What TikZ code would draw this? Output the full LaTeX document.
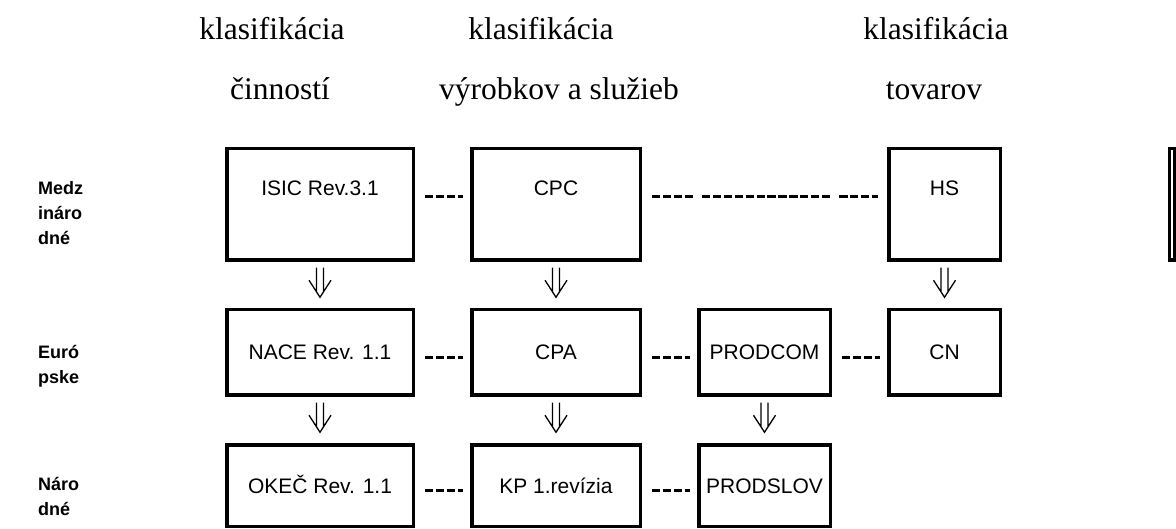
\documentclass[tikz,border=0pt]{standalone}
\usepackage{fontspec}
\setmainfont{Liberation Serif}
\newfontfamily\arialfont{Liberation Sans}
\usetikzlibrary{calc}

\begin{document}
\begin{tikzpicture}[x=1pt,y=-1pt,
	box/.style={draw,line width=3.5pt,inner sep=0pt,text height=15pt,text depth=0pt,font=\arialfont\fontsize{21}{25}\selectfont},
	lbl/.style={inner sep=0pt,text height=15pt,text depth=0pt,font=\arialfont\fontsize{21}{25}\selectfont},
	c1/.style={minimum width=186.5pt},
	c2/.style={minimum width=168.5pt},
	c3/.style={minimum width=131.5pt},
	c4/.style={minimum width=111.5pt},
	r1/.style={minimum height=111.5pt},
	r2/.style={minimum height=85.5pt},
	r3/.style={minimum height=81.5pt},
	side/.style={anchor=north west,inner sep=0pt,align=left,font=\arialfont\bfseries\fontsize{18}{25}\selectfont},
	title/.style={anchor=base,inner sep=0pt,font=\fontsize{31.5}{38}\selectfont},
	link/.style={line width=3pt,dash pattern=on 8.3pt off 2.6pt,shorten <=10pt,shorten >=7.5pt},
	longlink/.style={line width=3pt,shorten <=10pt,shorten >=9pt,
		dash pattern=on 8.3pt off 2.6pt on 8.3pt off 2.6pt on 8.3pt off 2.6pt on 8.3pt off 9pt
		on 8.3pt off 2.6pt on 8.3pt off 2.6pt on 8.3pt off 2.6pt on 8.3pt off 2.6pt
		on 8.3pt off 2.6pt on 8.3pt off 2.6pt on 8.3pt off 2.6pt on 8.3pt off 2.6pt
		on 8.3pt off 2.6pt on 8.3pt off 2.6pt on 8.3pt off 2.6pt on 8.3pt off 9pt
		on 8.3pt off 2.6pt on 8.3pt off 2.6pt on 8.3pt off 2.6pt on 8.3pt off 60pt},
	down/.style={line width=1.3pt,to path={
		($(\tikztostart.south)+(-3.5,5.75)$) -- ($(\tikztotarget.north)+(-3.5,-16.2)$)
		($(\tikztostart.south)+(3.5,5.75)$) -- ($(\tikztotarget.north)+(3.5,-16.2)$)
		($(\tikztotarget.north)+(-11,-27.75)$) -- ($(\tikztotarget.north)+(0,-10.75)$)
		-- ($(\tikztotarget.north)+(11,-27.75)$)}}]
	\useasboundingbox (0,0) rectangle (1176,529);
	%
	\node[title] (t1a) at (272,40) {klasifikácia};
	\node[title] (t1b) at (280,100) {činností};
	\node[title] (t2a) at (541,40) {klasifikácia};
	\node[title] (t2b) at (559,100) {výrobkov a služieb};
	\node[title] (t3a) at (936,40) {klasifikácia};
	\node[title] (t3b) at (934,100) {tovarov};
	%
	\node[side] (medz) at (38,181.5) {Medz\\ináro\\dné};
	\node[side] (euro) at (38,345.5) {Euró\\pske};
	\node[side] (naro) at (38,477.5) {Náro\\dné};
	%
	\node[box,c1,r1] (isic) at (320,204.5) {};
	\node[box,c2,r1] (cpc) at (556,204.5) {};
	\node[box,c4,r1] (hs) at (944.5,204.5) {};
	\node[box,r1,minimum width=4.75pt] (cut) at (1172.1,204.5) {};
	\node[lbl] (isict) at ([yshift=16pt]isic.center) {ISIC Rev.3.1};
	\node[lbl] (cpct) at ([yshift=16pt]cpc.center) {CPC};
	\node[lbl] (hst) at ([yshift=16pt]hs.center) {HS};
	%
	\node[box,c1,r2] (nace) at (320,352.5) {NACE Rev. 1.1};
	\node[box,c2,r2] (cpa) at (556,352.5) {CPA};
	\node[box,c3,r2] (prodcom) at (764.5,352.5) {PRODCOM};
	\node[box,c4,r2] (cn) at (944.5,352.5) {CN};
	%
	\node[box,c1,r3] (okec) at (320,485.5) {OKEČ Rev. 1.1};
	\node[box,c2,r3] (kp) at (556,485.5) {KP 1.revízia};
	\node[box,c3,r3] (prodslov) at (764.5,485.5) {PRODSLOV};
	%
	\draw[link] ([yshift=7.5pt]isic.east) -- ([yshift=7.5pt]cpc.west);
	\draw[longlink] ([yshift=7.5pt]cpc.east) -- ([yshift=7.5pt]hs.west);
	\draw[link] ([yshift=-5.5pt]nace.east) -- ([yshift=-5.5pt]cpa.west);
	\draw[link] ([yshift=-5.5pt]cpa.east) -- ([yshift=-5.5pt]prodcom.west);
	\draw[link] ([yshift=-5.5pt]prodcom.east) -- ([yshift=-5.5pt]cn.west);
	\draw[link] ([yshift=-4.5pt]okec.east) -- ([yshift=-4.5pt]kp.west);
	\draw[link] ([yshift=-4.5pt]kp.east) -- ([yshift=-4.5pt]prodslov.west);
	%
	\draw[down] (isic) to (nace);
	\draw[down] (cpc) to (cpa);
	\draw[down] (hs) to (cn);
	\draw[down] (nace) to (okec);
	\draw[down] (cpa) to (kp);
	\draw[down] (prodcom) to (prodslov);
\end{tikzpicture}
\end{document}
